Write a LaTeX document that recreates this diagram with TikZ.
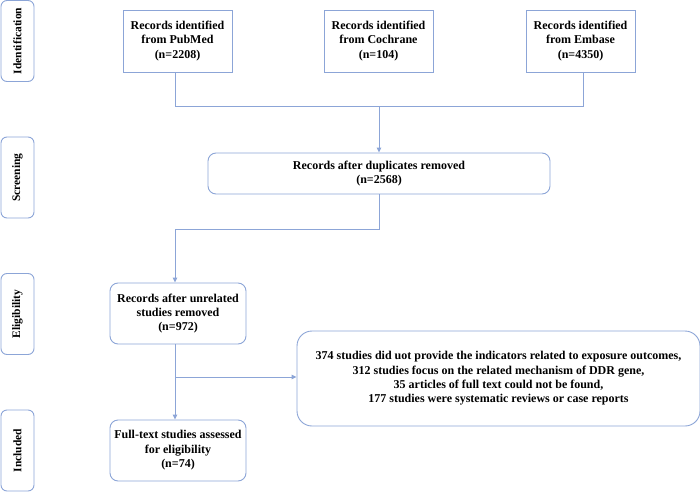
\documentclass[tikz,border=0pt]{standalone}
\usepackage{fontspec}
\setmainfont{Liberation Serif}
\usetikzlibrary{arrows.meta}
\definecolor{lineblue}{RGB}{140,165,215}
\tikzset{
  box/.style={draw=lineblue, line width=0.9pt, fill=white, align=center, font=\bfseries\fontsize{12}{14.4}\selectfont, inner sep=0pt},
  rbox/.style={box, rounded corners=8pt},
  side/.style={draw=lineblue, line width=0.9pt, rounded corners=6pt, minimum width=33pt, minimum height=81pt, inner sep=0pt},
  sidetext/.style={rotate=90, font=\bfseries\fontsize{11.5}{13}\selectfont},
  conn/.style={draw=lineblue, line width=0.9pt},
  arr/.style={conn, -{Triangle[length=5pt,width=4.5pt]}}
}
\begin{document}
\begin{tikzpicture}[x=1pt,y=-1pt]
\useasboundingbox (0,0) rectangle (700,492);
% side labels
\node[side] (s1) at (17.5,41) {};
\node[sidetext] (t1) at (s1) {Identification};
\node[side] (s2) at (17.5,177.5) {};
\node[sidetext] (t2) at (s2) {Screening};
\node[side] (s3) at (17.5,314) {};
\node[sidetext] (t3) at (s3) {Eligibility};
\node[side] (s4) at (17.5,450.5) {};
\node[sidetext] (t4) at (s4) {Included};
% top boxes
\node[box, minimum width=109pt, minimum height=62pt] (pub) at (177.5,41) {Records identified\\from PubMed\\(n=2208)};
\node[box, minimum width=109pt, minimum height=62pt] (coc) at (378.5,41) {Records identified\\from Cochrane\\(n=104)};
\node[box, minimum width=109pt, minimum height=62pt] (emb) at (580.5,41) {Records identified\\from Embase\\(n=4350)};
% screening
\node[rbox, minimum width=342pt, minimum height=41pt] (scr) at (379,173.5) {Records after duplicates removed\\(n=2568)};
% eligibility
\node[rbox, minimum width=136pt, minimum height=61pt] (eli) at (178,313.5) {Records after unrelated\\studies removed\\(n=972)};
% included
\node[rbox, minimum width=136pt, minimum height=61pt] (inc) at (178,450.5) {Full-text studies assessed\\for eligibility\\(n=74)};
% excluded
\node[box, rounded corners=15pt, minimum width=403pt, minimum height=95pt] (exc) at (498.5,378.5) {374 studies did uot provide the indicators related to exposure outcomes,\\312 studies focus on the related mechanism of DDR gene,\\35 articles of full text could not be found,\\177 studies were systematic reviews or case reports};
% connectors
\coordinate (h1) at (175,106);
\coordinate (h2) at (583,106);
\coordinate (j1) at (379,106);
\coordinate (h3) at (379,229);
\coordinate (h4) at (175,229);
\coordinate (b1) at (175,377);
\draw[conn] (pub.south -| h1) -- (h1) -- (h2) -- (emb.south -| h2);
\draw[arr] (j1) -- (scr.north -| j1);
\draw[arr] (scr.south -| h3) -- (h3) -- (h4) -- (eli.north -| h4);
\draw[arr] (eli.south -| h4) -- (inc.north -| h4);
\draw[arr] (b1) -- (exc.west |- b1);
\end{tikzpicture}
\end{document}
